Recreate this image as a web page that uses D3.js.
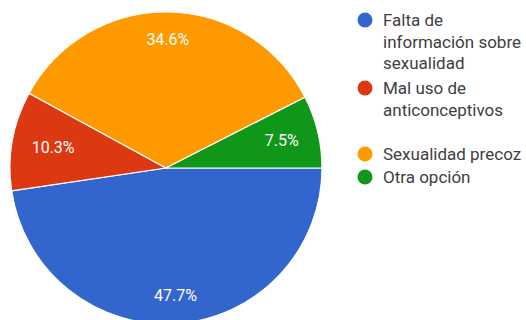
<!DOCTYPE html>
<html>
<head>
<meta charset="utf-8">
<script src="https://cdn.jsdelivr.net/npm/d3@7"></script>
<style>
  html, body { margin: 0; padding: 0; background: #fff; }
  svg { display: block; font-family: Roboto, "Noto Sans", sans-serif; }
</style>
</head>
<body>
<svg id="chart" width="526" height="320"></svg>
<script>
// Motivos: share of each answer, drawn clockwise from 3 o'clock
const categories = [
  ["Falta de", "información sobre", "sexualidad"],
  ["Mal uso de", "anticonceptivos"],
  ["Sexualidad precoz"],
  ["Otra opción"]
];
const values = [47.7, 10.3, 34.6, 7.5];
const labels = ["47.7%", "10.3%", "34.6%", "7.5%"];
const colors = ["#3366cc", "#dc3912", "#ff9900", "#109618"];

const svg = d3.select("#chart");
const cx = 166, cy = 168, R = 156;

const pie = d3.pie().sort(null).value(d => d)
  .startAngle(Math.PI / 2).endAngle(Math.PI / 2 + 2 * Math.PI);
const arcs = pie(values);
const arc = d3.arc().innerRadius(0).outerRadius(R);

const g = svg.append("g").attr("transform", `translate(${cx},${cy})`);
g.selectAll("path.slice").data(arcs).join("path")
  .attr("class", "slice")
  .attr("d", arc)
  .attr("fill", (d, i) => colors[i])
  .attr("stroke", "#fff")
  .attr("stroke-width", 1.2);

// Percent labels: slide along the bisector until the outer corner of the text box touches labelR
const labelR = 137;
g.selectAll("text.pct").data(arcs).join("text")
  .attr("class", "pct")
  .attr("text-anchor", "middle")
  .attr("dominant-baseline", "central")
  .attr("fill", "#fff")
  .attr("font-size", 16)
  .text((d, i) => labels[i])
  .each(function (d) {
    const bb = this.getBBox();
    const hw = bb.width / 2, hh = 6;
    const a = (d.startAngle + d.endAngle) / 2;
    const ux = Math.sin(a), uy = -Math.cos(a);
    const sx = Math.sign(ux) * hw, sy = Math.sign(uy) * hh;
    // |t*u + s| = labelR  ->  t^2 + 2t(u·s) + |s|^2 - labelR^2 = 0
    const b = ux * sx + uy * sy;
    const c = sx * sx + sy * sy - labelR * labelR;
    const t = -b + Math.sqrt(b * b - c);
    d3.select(this).attr("x", t * ux).attr("y", t * uy);
  });

// Legend
const legendX = 365, lineH = 21.5;
const legendTops = [20, 88, 154, 177];
const lg = svg.append("g");
categories.forEach((lines, i) => {
  lg.append("circle")
    .attr("cx", legendX).attr("cy", legendTops[i]).attr("r", 7.5)
    .attr("fill", colors[i]);
  lines.forEach((ln, j) => {
    lg.append("text")
      .attr("x", legendX + 18)
      .attr("y", legendTops[i] + j * lineH)
      .attr("dominant-baseline", "central")
      .attr("font-size", 17)
      .attr("fill", "#404040")
      .text(ln);
  });
});
</script>
</body>
</html>
